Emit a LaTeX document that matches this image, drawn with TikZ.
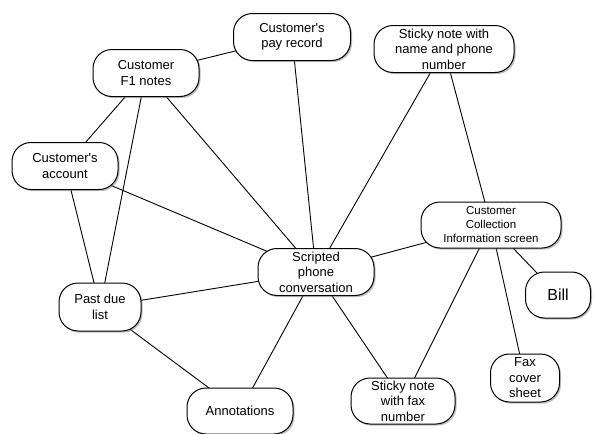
\documentclass[tikz,border=0pt]{standalone}
\usepackage{fontspec}
\setmainfont{Liberation Sans}
\usetikzlibrary{shadows,backgrounds}
\begin{document}
\begin{tikzpicture}[x=1pt,y=-1pt,
  box/.style={draw, line width=1pt, rounded corners=19pt, fill=white, align=center, inner sep=0pt,
    font=\fontsize{13}{15.5}\selectfont,
    drop shadow={shadow xshift=1.6pt, shadow yshift=-1.6pt, fill=black!50, opacity=0.5}},
  link/.style={line width=0.9pt}]
\useasboundingbox (0,0) rectangle (595,434);
\node[box, minimum width=106pt, minimum height=47pt] (f1) at (146,73) {Customer\\F1 notes};
\node[box, minimum width=117pt, minimum height=47pt] (pay) at (292,37) {Customer\textquotesingle s\\pay record};
\node[box, minimum width=140pt, minimum height=47pt] (stn) at (444,49) {Sticky note with\\name and phone\\number};
\node[box, minimum width=106pt, minimum height=47pt] (acct) at (65,166) {Customer\textquotesingle s\\account};
\node[box, minimum width=140pt, minimum height=46pt, font=\fontsize{11.5}{14}\selectfont] (coll) at (491,225) {Customer\\Collection\\Information screen};
\node[box, minimum width=116pt, minimum height=47pt] (scr) at (316,272) {Scripted\\phone\\conversation};
\node[box, minimum width=82pt, minimum height=48pt] (past) at (100,307) {Past due\\list};
\node[box, minimum width=65pt, minimum height=46pt, font=\fontsize{16}{18}\selectfont] (bill) at (558,295) {Bill};
\node[box, minimum width=69pt, minimum height=48pt] (fax) at (525,378) {Fax\\cover\\sheet};
\node[box, minimum width=104pt, minimum height=46pt] (stf) at (403,401) {Sticky note\\with fax\\number};
\node[box, minimum width=106pt, minimum height=46pt] (ann) at (240,411) {Annotations};
\begin{scope}[on background layer]
\draw[link] (f1.center) -- (pay.center);
\draw[link] (f1.center) -- (acct.center);
\draw[link] (f1.center) -- (past.center);
\draw[link] (f1.center) -- (scr.center);
\draw[link] (pay.center) -- (scr.center);
\draw[link] (acct.center) -- (past.center);
\draw[link] (acct.center) -- (scr.center);
\draw[link] (stn.center) -- (scr.center);
\draw[link] (stn.center) -- (coll.center);
\draw[link] (scr.center) -- (coll.center);
\draw[link] (past.center) -- (scr.center);
\draw[link] (past.center) -- (ann.center);
\draw[link] (scr.center) -- (ann.center);
\draw[link] (scr.center) -- (stf.center);
\draw[link] (coll.center) -- (stf.center);
\draw[link] (coll.center) -- (fax.center);
\draw[link] (coll.center) -- (bill.center);
\end{scope}
\end{tikzpicture}
\end{document}
